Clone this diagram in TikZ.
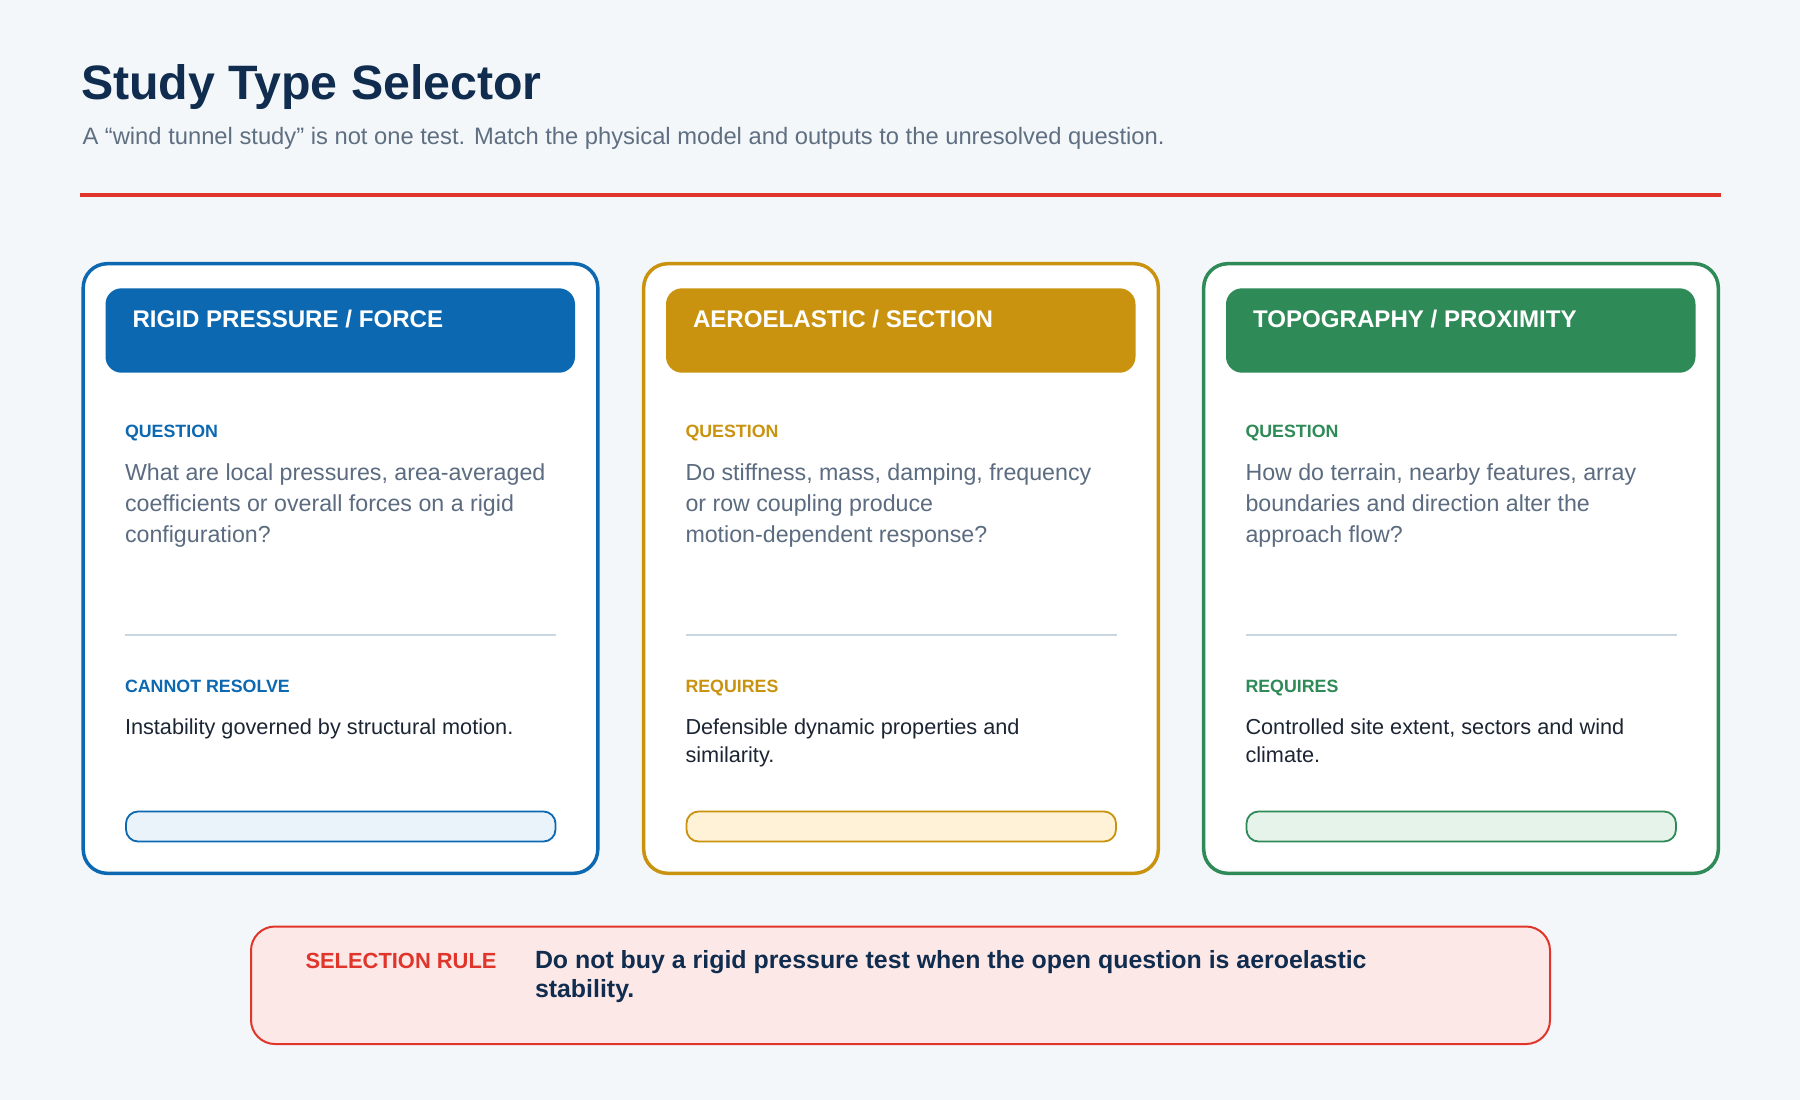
\documentclass[tikz,border=0pt]{standalone}
\usepackage{fontspec}
\setmainfont{Liberation Sans}
\definecolor{bg}{HTML}{F4F7FA}
\definecolor{navy}{HTML}{102C4E}
\definecolor{subgray}{HTML}{5F6F82}
\definecolor{qgray}{HTML}{5B6B80}
\definecolor{bodyd}{HTML}{1C2533}
\definecolor{redc}{HTML}{E0352B}
\definecolor{bluec}{HTML}{0B68B1}
\definecolor{goldc}{HTML}{C9930F}
\definecolor{greenc}{HTML}{2E8A57}
\definecolor{divc}{HTML}{C9D7E3}
\definecolor{bluef}{HTML}{EAF2FA}
\definecolor{goldf}{HTML}{FFF2D6}
\definecolor{greenf}{HTML}{E6F3EA}
\definecolor{rulef}{HTML}{FDE8E8}
\tikzset{
  txt/.style={anchor=base west, inner sep=0pt, outer sep=0pt},
  titletxt/.style={txt, font=\fontsize{48.3}{57}\selectfont\bfseries, text=navy},
  subtxt/.style={txt, font=\fontsize{23.75}{28}\selectfont, text=subgray},
  headtxt/.style={txt, font=\fontsize{24.1}{29}\selectfont\bfseries, text=white},
  lbltxt/.style={txt, font=\fontsize{17.8}{21}\selectfont\bfseries},
  qtxt/.style={txt, font=\fontsize{23.2}{27}\selectfont, text=qgray},
  bodytxt/.style={txt, font=\fontsize{21.7}{26}\selectfont, text=bodyd},
  cardbox/.style={draw, line width=3.5pt, fill=white, rounded corners=24pt, anchor=north west, inner sep=0pt, outer sep=0pt, minimum width=514.6pt, minimum height=609.6pt},
  headbox/.style={rounded corners=16pt, anchor=north west, inner sep=0pt, outer sep=0pt, minimum width=469.5pt, minimum height=84.4pt},
  pillbox/.style={draw, line width=1.8pt, rounded corners=12pt, anchor=north west, inner sep=0pt, outer sep=0pt, minimum width=429.5pt, minimum height=30pt},
  divline/.style={draw=divc, line width=2.7pt},
  rulebox/.style={draw=redc, fill=rulef, line width=2pt, rounded corners=24pt, anchor=north west, inner sep=0pt, outer sep=0pt, minimum width=1299pt, minimum height=117.5pt},
  ruletxt/.style={txt, font=\fontsize{24.9}{29}\selectfont\bfseries, text=navy},
  rulelbl/.style={txt, font=\fontsize{21.9}{26}\selectfont\bfseries, text=redc}
}
\begin{document}
\begin{tikzpicture}[x=1pt,y=-1pt]
\useasboundingbox[fill=bg] (0,0) rectangle (1800,1100);

\node[titletxt] (title) at (81,99.3) {Study Type Selector};
\node[subtxt] (subtitle) at (82.5,144.5) {A “wind tunnel study” is not one test. Match the physical model and outputs to the unresolved question.};
\coordinate (rl) at (80,195);
\coordinate (rr) at (1721,195);
\draw[redc, line width=4.4pt] (rl) -- (rr);

% ---------- card 1 ----------
\begin{scope}[xshift=81.5pt]
\node[cardbox, draw=bluec] (c1) at (1.7,263.7) {};
\node[headbox, fill=bluec] (h1) at (24,288.3) {};
\node[headtxt] (h1t) at (51,327.3) {RIGID PRESSURE / FORCE};
\node[lbltxt, text=bluec] (q1l) at (43.5,437.7) {QUESTION};
\node[qtxt] (q1a) at (43.5,480.7) {What are local pressures, area-averaged};
\node[qtxt] (q1b) at (43.5,511.7) {coefficients or overall forces on a rigid};
\node[qtxt] (q1c) at (43.5,542.7) {configuration?};
\coordinate (d1a) at (43.5,635);
\coordinate (d1b) at (474.5,635);
\draw[divline] (d1a) -- (d1b);
\node[lbltxt, text=bluec] (r1l) at (43.5,692.3) {CANNOT RESOLVE};
\node[bodytxt] (b1a) at (43.5,734) {Instability governed by structural motion.};
\node[pillbox, draw=bluec, fill=bluef] (p1) at (44.5,811.5) {};
\end{scope}

% ---------- card 2 ----------
\begin{scope}[xshift=642pt]
\node[cardbox, draw=goldc] (c2) at (1.7,263.7) {};
\node[headbox, fill=goldc] (h2) at (24,288.3) {};
\node[headtxt] (h2t) at (51,327.3) {AEROELASTIC / SECTION};
\node[lbltxt, text=goldc] (q2l) at (43.5,437.7) {QUESTION};
\node[qtxt] (q2a) at (43.5,480.7) {Do stiffness, mass, damping, frequency};
\node[qtxt] (q2b) at (43.5,511.7) {or row coupling produce};
\node[qtxt] (q2c) at (43.5,542.7) {motion-dependent response?};
\coordinate (d2a) at (43.5,635);
\coordinate (d2b) at (474.5,635);
\draw[divline] (d2a) -- (d2b);
\node[lbltxt, text=goldc] (r2l) at (43.5,692.3) {REQUIRES};
\node[bodytxt] (b2a) at (43.5,734) {Defensible dynamic properties and};
\node[bodytxt] (b2b) at (43.5,762.7) {similarity.};
\node[pillbox, draw=goldc, fill=goldf] (p2) at (44.5,811.5) {};
\end{scope}

% ---------- card 3 ----------
\begin{scope}[xshift=1202pt]
\node[cardbox, draw=greenc] (c3) at (1.7,263.7) {};
\node[headbox, fill=greenc] (h3) at (24,288.3) {};
\node[headtxt] (h3t) at (51,327.3) {TOPOGRAPHY / PROXIMITY};
\node[lbltxt, text=greenc] (q3l) at (43.5,437.7) {QUESTION};
\node[qtxt] (q3a) at (43.5,480.7) {How do terrain, nearby features, array};
\node[qtxt] (q3b) at (43.5,511.7) {boundaries and direction alter the};
\node[qtxt] (q3c) at (43.5,542.7) {approach flow?};
\coordinate (d3a) at (43.5,635);
\coordinate (d3b) at (474.5,635);
\draw[divline] (d3a) -- (d3b);
\node[lbltxt, text=greenc] (r3l) at (43.5,692.3) {REQUIRES};
\node[bodytxt] (b3a) at (43.5,734) {Controlled site extent, sectors and wind};
\node[bodytxt] (b3b) at (43.5,762.7) {climate.};
\node[pillbox, draw=greenc, fill=greenf] (p3) at (44.5,811.5) {};
\end{scope}

% ---------- selection rule ----------
\node[rulebox] (rule) at (251,926.5) {};
\node[rulelbl] (rulel) at (305.5,968.5) {SELECTION RULE};
\node[ruletxt] (rulea) at (535,968.3) {Do not buy a rigid pressure test when the open question is aeroelastic};
\node[ruletxt] (ruleb) at (535,997.3) {stability.};
\end{tikzpicture}
\end{document}
